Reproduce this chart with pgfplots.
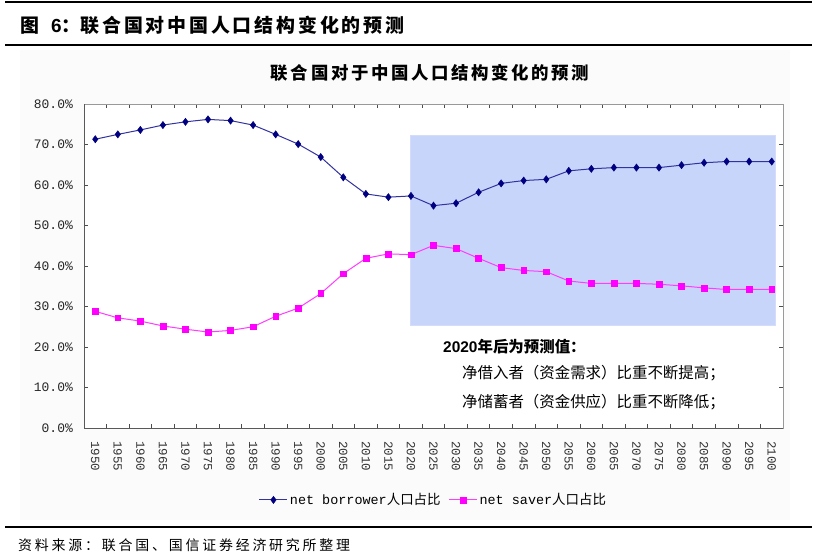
\documentclass[border=0pt]{standalone}
\usepackage{fontspec}
\usepackage{pgfplots}
\pgfplotsset{compat=1.18}
\setmainfont{Liberation Sans}
\newfontfamily\cjk{Noto Sans CJK SC}
\newfontfamily\cjksp{Noto Sans CJK SC}[LetterSpace=20]
\newfontfamily\cjkti{Noto Sans CJK SC}[LetterSpace=15]
\newfontfamily\mono{Liberation Mono}
\definecolor{navyb}{RGB}{0,0,128}
\definecolor{navyl}{RGB}{50,50,160}
\definecolor{magb}{RGB}{255,0,255}
\definecolor{magl}{RGB}{255,60,255}
\definecolor{shade}{RGB}{200,213,250}
\begin{document}
\begin{tikzpicture}
\path (0,0) rectangle (818bp,-557bp);
% rules
\draw[line width=1.4bp] (5bp,-2bp) -- (812bp,-2bp);
\draw[line width=1.2bp] (5bp,-45bp) -- (812bp,-45bp);
\draw[line width=1.2bp] (5bp,-527bp) -- (812bp,-527bp);
% main title
\node[anchor=west, inner sep=0pt] at (20bp,-25bp) {\fontsize{19}{21}\selectfont\cjk\bfseries 图\hspace{12bp}{\rmfamily\bfseries 6}：{\cjkti\bfseries 联合国对中国人口结构变化的预测}};
% chart area background
\fill[black!1.5] (20bp,-50bp) rectangle (790bp,-520bp);
% chart title
\node[inner sep=0pt] at (430bp,-73bp) {\fontsize{17.5}{19}\selectfont\cjkti\bfseries 联合国对于中国人口结构变化的预测};
\begin{axis}[
  at={(84bp,-428bp)}, anchor=south west,
  scale only axis, width=699bp, height=324bp,
  xmin=-0.5, xmax=30.5, ymin=0, ymax=80,
  axis background/.style={fill=white},
  axis line style={draw=black!40, line width=0.8bp},
  xtick={-0.5,0.5,1.5,2.5,3.5,4.5,5.5,6.5,7.5,8.5,9.5,10.5,11.5,12.5,13.5,14.5,15.5,16.5,17.5,18.5,19.5,20.5,21.5,22.5,23.5,24.5,25.5,26.5,27.5,28.5,29.5,30.5},
  x tick label as interval,
  xticklabels={1950,1955,1960,1965,1970,1975,1980,1985,1990,1995,2000,2005,2010,2015,2020,2025,2030,2035,2040,2045,2050,2055,2060,2065,2070,2075,2080,2085,2090,2095,2100},
  xticklabel style={rotate=-90, anchor=west, font=\mono\fontsize{12.5}{13}\selectfont, text=black!80, inner xsep=13bp},
  ytick={0,10,...,80},
  yticklabels={0.0\%,10.0\%,20.0\%,30.0\%,40.0\%,50.0\%,60.0\%,70.0\%,80.0\%},
  yticklabel style={font=\mono\fontsize{13}{13}\selectfont, text=black!85, inner xsep=11bp},
  tick style={draw=black!70, line width=0.8bp},
  major tick length=4bp,
  tick align=inside,
  legend style={at={(0.5,-0.222)}, anchor=center, draw=none, fill=none,
    font=\mono\fontsize{13.5}{15}\selectfont, legend columns=2,
    /tikz/every even column/.append style={column sep=6bp}},
  legend image code/.code={\draw[mark repeat=2,mark phase=2] plot coordinates {(0bp,0bp) (14bp,0bp) (28bp,0bp)};},
  clip=false,
]
\addplot[fill=shade, draw=shade!80!white, forget plot] coordinates {(13.95,25.4) (30.15,25.4) (30.15,72.3) (13.95,72.3)} -- cycle;
\addplot[color=navyl, line width=1bp, mark=diamond*, mark size=3.6bp, mark options={fill=navyb, draw=navyb, line width=0.5bp}] coordinates {
(0,71.3) (1,72.5) (2,73.6) (3,74.8) (4,75.6) (5,76.2) (6,75.9) (7,74.8) (8,72.5) (9,70.1)
(10,66.9) (11,61.9) (12,57.8) (13,57.0) (14,57.3) (15,54.9) (16,55.5) (17,58.2) (18,60.4) (19,61.1)
(20,61.4) (21,63.5) (22,64.0) (23,64.3) (24,64.3) (25,64.3) (26,64.9) (27,65.5) (28,65.8) (29,65.8) (30,65.8)};
\addlegendentry{net borrower{\cjk 人口占比}}
\addplot[color=magl, line width=1bp, mark=square*, mark size=2.9bp, mark options={fill=magb, draw=magb, line width=0.5bp}] coordinates {
(0,28.8) (1,27.2) (2,26.4) (3,25.2) (4,24.4) (5,23.7) (6,24.1) (7,25.0) (8,27.6) (9,29.6)
(10,33.2) (11,38.1) (12,41.9) (13,43.0) (14,42.8) (15,45.1) (16,44.3) (17,41.9) (18,39.6) (19,38.9)
(20,38.6) (21,36.3) (22,35.7) (23,35.7) (24,35.7) (25,35.5) (26,35.1) (27,34.6) (28,34.2) (29,34.2) (30,34.2)};
\addlegendentry{net saver{\cjk 人口占比}}
\draw[black!65, line width=0.9bp] (rel axis cs:0,1) -- (rel axis cs:0,0) -- (rel axis cs:1,0);
\end{axis}
% annotation
\node[anchor=west, inner sep=0pt] at (443bp,-347bp) {\fontsize{15.5}{17}\selectfont\bfseries 2020{\cjk 年后为预测值：}};
\node[anchor=west, inner sep=0pt] at (462bp,-373bp) {\fontsize{15.5}{17}\selectfont\cjk 净借入者（资金需求）比重不断提高；};
\node[anchor=west, inner sep=0pt] at (462bp,-402bp) {\fontsize{15.5}{17}\selectfont\cjk 净储蓄者（资金供应）比重不断降低；};
% source
\node[anchor=west, inner sep=0pt] at (18bp,-545bp) {\fontsize{14}{16}\selectfont\cjksp 资料来源：联合国、国信证券经济研究所整理};
\end{tikzpicture}
\end{document}
